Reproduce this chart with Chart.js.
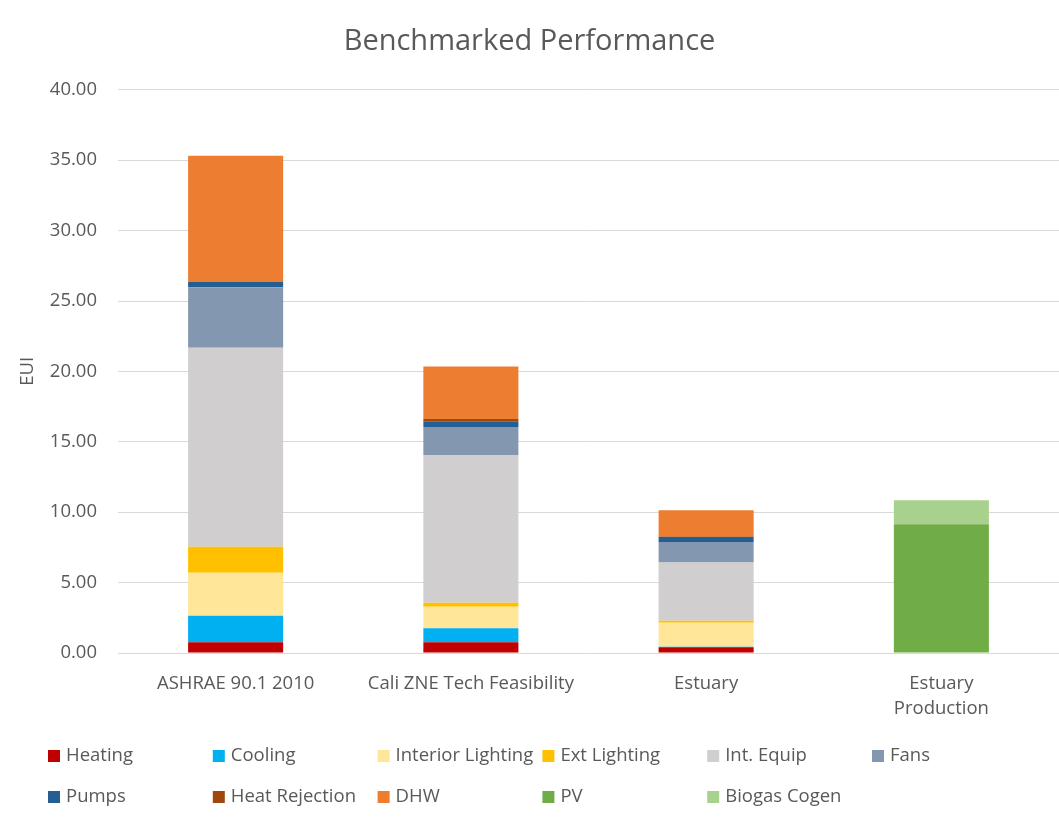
<!DOCTYPE html>
<html lang="en">
<head>
    <meta charset="UTF-8">
    <title>Benchmarked Performance</title>
    <script src="https://cdn.jsdelivr.net/npm/chart.js@4.4.1/dist/chart.umd.min.js"></script>
    <style>
        html, body {
            margin: 0;
            padding: 0;
            background: #ffffff;
        }
        #chart-box {
            position: relative;
            width: 1059px;
            height: 826px;
        }
    </style>
</head>
<body>

<div id="chart-box">
    <canvas id="eui_chart"></canvas>
</div>

<script>
    // categories (last one wraps on two lines)
    const buildings = ['ASHRAE 90.1 2010', 'Cali ZNE Tech Feasibility', 'Estuary', ['Estuary', 'Production']];

    // EUI by end use, one value per building
    const heating        = [0.76, 0.76, 0.40, 0];
    const cooling        = [1.89, 0.99, 0.05, 0];
    const interiorLight  = [3.05, 1.53, 1.70, 0];
    const extLight       = [1.84, 0.29, 0.14, 0];
    const intEquip       = [14.14, 10.49, 4.14, 0];
    const fans           = [4.30, 1.99, 1.46, 0];
    const pumps          = [0.38, 0.38, 0.34, 0];
    const heatRejection  = [0, 0.19, 0.05, 0];
    const dhw            = [8.96, 3.73, 1.86, 0];
    const pv             = [0, 0, 0, 9.15];
    const biogasCogen    = [0, 0, 0, 1.70];

    const yTicks = [0, 5, 10, 15, 20, 25, 30, 35, 40];

    const textColor = '#595959';
    const fontName = '"Open Sans", sans-serif';

    const series = [
        { label: 'Heating', data: heating, color: '#C00000' },
        { label: 'Cooling', data: cooling, color: '#00B0F0' },
        { label: 'Interior Lighting', data: interiorLight, color: '#FFE699' },
        { label: 'Ext Lighting', data: extLight, color: '#FFC000' },
        { label: 'Int. Equip', data: intEquip, color: '#D0CECE' },
        { label: 'Fans', data: fans, color: '#8497B0' },
        { label: 'Pumps', data: pumps, color: '#255E91' },
        { label: 'Heat Rejection', data: heatRejection, color: '#9E480E' },
        { label: 'DHW', data: dhw, color: '#ED7D31' },
        { label: 'PV', data: pv, color: '#70AD47' },
        { label: 'Biogas Cogen', data: biogasCogen, color: '#A9D18E' }
    ];

    // legend in fixed columns, like the spreadsheet one
    const gridLegend = {
        id: 'gridLegend',
        afterDraw(chart) {
            const ctx = chart.ctx;
            ctx.save();
            ctx.font = '18.5px ' + fontName;
            ctx.textBaseline = 'middle';
            ctx.textAlign = 'left';
            chart.data.datasets.forEach((ds, i) => {
                const col = i % 6;
                const row = Math.floor(i / 6);
                const x = 48 + col * 164.8;
                const y = 756 + row * 41;
                ctx.fillStyle = ds.backgroundColor;
                ctx.fillRect(x, y - 6, 12, 12);
                ctx.fillStyle = textColor;
                ctx.fillText(ds.label, x + 18, y);
            });
            ctx.restore();
        }
    };

    document.addEventListener('DOMContentLoaded', () => {
        new Chart(document.getElementById('eui_chart'), {
            type: 'bar',
            data: {
                labels: buildings,
                datasets: series.map(s => ({
                    label: s.label,
                    data: s.data,
                    backgroundColor: s.color,
                    borderWidth: 0,
                    barPercentage: 0.404,
                    categoryPercentage: 1.0
                }))
            },
            options: {
                responsive: true,
                maintainAspectRatio: false,
                animation: false,
                layout: {
                    padding: { left: 0, right: 0, top: 0, bottom: 103 }
                },
                plugins: {
                    legend: { display: false },
                    tooltip: { enabled: false },
                    title: {
                        display: true,
                        text: 'Benchmarked Performance',
                        color: textColor,
                        font: { family: fontName, size: 29, weight: 'normal' },
                        padding: { top: 24, bottom: 31 }
                    }
                },
                scales: {
                    x: {
                        stacked: true,
                        grid: { display: false },
                        border: { display: false },
                        ticks: {
                            color: textColor,
                            font: { family: fontName, size: 18.5, lineHeight: 1.35 },
                            padding: 10,
                            maxRotation: 0,
                            autoSkip: false
                        },
                        afterFit(scale) {
                            scale.height = 70;
                        }
                    },
                    y: {
                        stacked: true,
                        min: 0,
                        max: 40,
                        afterBuildTicks(scale) {
                            scale.ticks = yTicks.map(v => ({ value: v }));
                        },
                        grid: {
                            color: '#D9D9D9',
                            lineWidth: 1,
                            drawTicks: false
                        },
                        border: { display: false },
                        ticks: {
                            color: textColor,
                            font: { family: fontName, size: 18.5 },
                            padding: 21,
                            callback: (value) => Number(value).toFixed(2)
                        },
                        title: {
                            display: true,
                            text: 'EUI',
                            color: textColor,
                            font: { family: fontName, size: 18.5, weight: 'normal' },
                            padding: { top: 17, bottom: 0 }
                        },
                        afterFit(scale) {
                            scale.width = 118;
                        }
                    }
                }
            },
            plugins: [gridLegend]
        });
    }, false);
</script>
</body>
</html>
